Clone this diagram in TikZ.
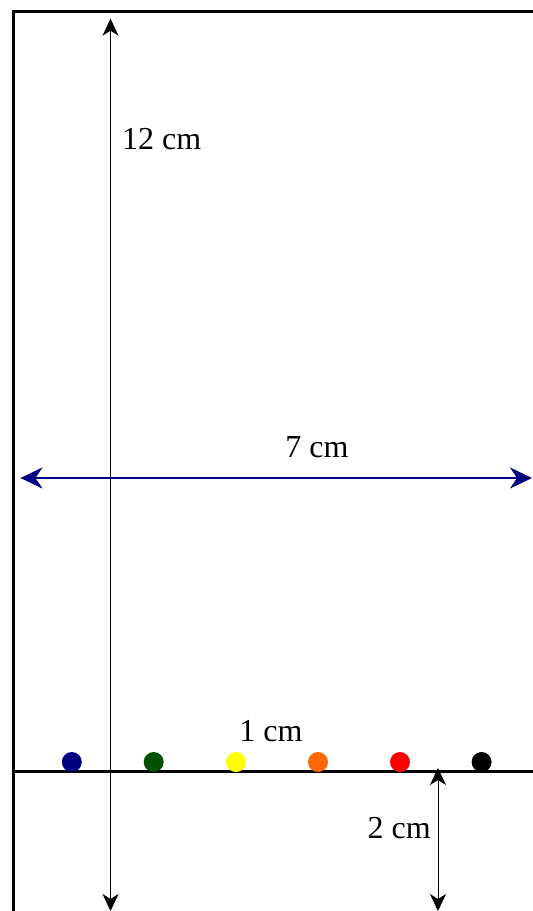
\documentclass[tikz,border=0pt]{standalone}
\usepackage{fontspec}
\setmainfont{Liberation Serif}
\usetikzlibrary{arrows.meta}
\definecolor{navyc}{RGB}{0,0,128}
\definecolor{greenc}{RGB}{0,80,0}
\definecolor{yellowc}{RGB}{255,255,0}
\definecolor{orangec}{RGB}{255,102,0}
\definecolor{redc}{RGB}{255,0,0}
\begin{document}
\begin{tikzpicture}[x=1pt,y=-1pt,
  wall/.style={line width=3pt},
  dimarrow/.style={line width=0.8pt,{Stealth[length=17pt,width=16pt,inset=5pt]}-{Stealth[length=17pt,width=16pt,inset=5pt]}},
  bluearrow/.style={navyc,line width=2pt,{Stealth[length=22pt,width=21pt,inset=7pt]}-{Stealth[length=22pt,width=21pt,inset=7pt]}},
  lbl/.style={inner sep=0pt,font=\fontsize{32}{38}\selectfont},
  dot/.style={circle,inner sep=0pt,minimum size=20pt}]
\useasboundingbox (0,0) rectangle (533,911);
% walls
\draw[wall] (13.5,911) -- (13.5,11.6) -- (533,11.6);
\draw[wall] (12,771) -- (533,771);
% coordinates
\coordinate (tA) at (110.5,18.7);
\coordinate (bA) at (110.5,911);
\coordinate (lB) at (20.4,478);
\coordinate (rB) at (532,478);
\coordinate (tC) at (438,768);
\coordinate (bC) at (438,911);
% dimension arrows
\draw[dimarrow] (bA) -- (tA);
\draw[bluearrow] (lB) -- (rB);
\draw[dimarrow] (tC) -- (bC);
% labels
\node[lbl,anchor=base west] (l12) at (122,149) {12 cm};
\node[lbl,anchor=base] (l7) at (317,457) {7 cm};
\node[lbl,anchor=base] (l1) at (271,741) {1 cm};
\node[lbl,anchor=base east] (l2) at (431,838) {2 cm};
% dots
\node[dot,fill=navyc] (d1) at (71.8,762) {};
\node[dot,fill=greenc] (d2) at (153.7,762) {};
\node[dot,fill=yellowc] (d3) at (236,762) {};
\node[dot,fill=orangec] (d4) at (318,762) {};
\node[dot,fill=redc] (d5) at (400,762) {};
\node[dot,fill=black] (d6) at (481.6,762) {};
\end{tikzpicture}
\end{document}
